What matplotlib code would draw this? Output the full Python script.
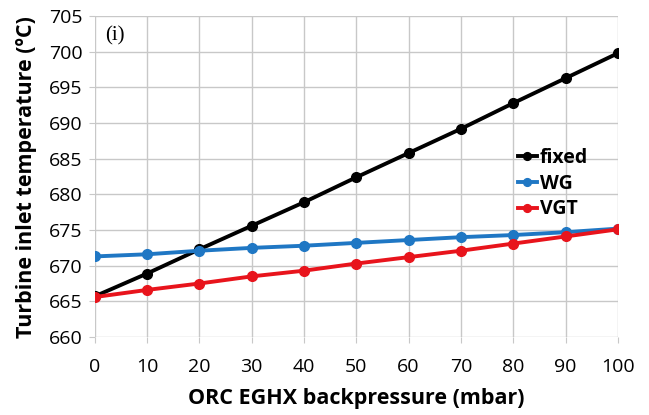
import matplotlib.pyplot as plt

backpressure = [0, 10, 20, 30, 40, 50, 60, 70, 80, 90, 100]
fixed = [665.7, 668.9, 672.3, 675.6, 678.9, 682.4, 685.8, 689.2, 692.8, 696.3, 699.8]
wg = [671.3, 671.6, 672.1, 672.5, 672.8, 673.2, 673.6, 674.0, 674.3, 674.7, 675.2]
vgt = [665.6, 666.6, 667.5, 668.5, 669.3, 670.3, 671.2, 672.1, 673.1, 674.1, 675.1]

plt.rcParams['font.family'] = ['Open Sans', 'DejaVu Sans']

fig = plt.figure(figsize=(6.49, 4.15), dpi=100)
ax = fig.add_axes([0.146, 0.188, 0.806, 0.773])

ax.plot(backpressure, fixed, color='black', lw=2.8, marker='o', ms=7, label='fixed')
ax.plot(backpressure, wg, color='#1f77c4', lw=2.8, marker='o', ms=7, label='WG')
ax.plot(backpressure, vgt, color='#e8141c', lw=2.8, marker='o', ms=7, label='VGT')

ax.set_xlim(0, 100)
ax.set_ylim(660, 705)
ax.set_xticks(range(0, 101, 10))
ax.set_yticks(range(660, 706, 5))
ax.grid(True, color='#c8c8c8', lw=1)
ax.set_axisbelow(True)
for s in ax.spines.values():
    s.set_visible(False)
ax.tick_params(length=4, color='#c8c8c8', labelsize=14, pad=5)
ax.tick_params(axis='x', pad=11)

ax.set_xlabel('ORC EGHX backpressure (mbar)', fontsize=15.5, fontweight='bold', labelpad=9)
ax.set_ylabel('Turbine inlet temperature (ºC)', fontsize=15.5, fontweight='bold', labelpad=8)

ax.text(2, 702.2, '(i)', family='Liberation Serif', fontsize=15, va='center')

leg = ax.legend(loc='upper left', bbox_to_anchor=(0.79, 0.62), frameon=False,
                prop={'size': 14, 'weight': 'bold'}, handlelength=1.0,
                handletextpad=0.15, labelspacing=0.3, borderpad=0, markerscale=0.8)

fig.savefig('out.png', dpi=100)
